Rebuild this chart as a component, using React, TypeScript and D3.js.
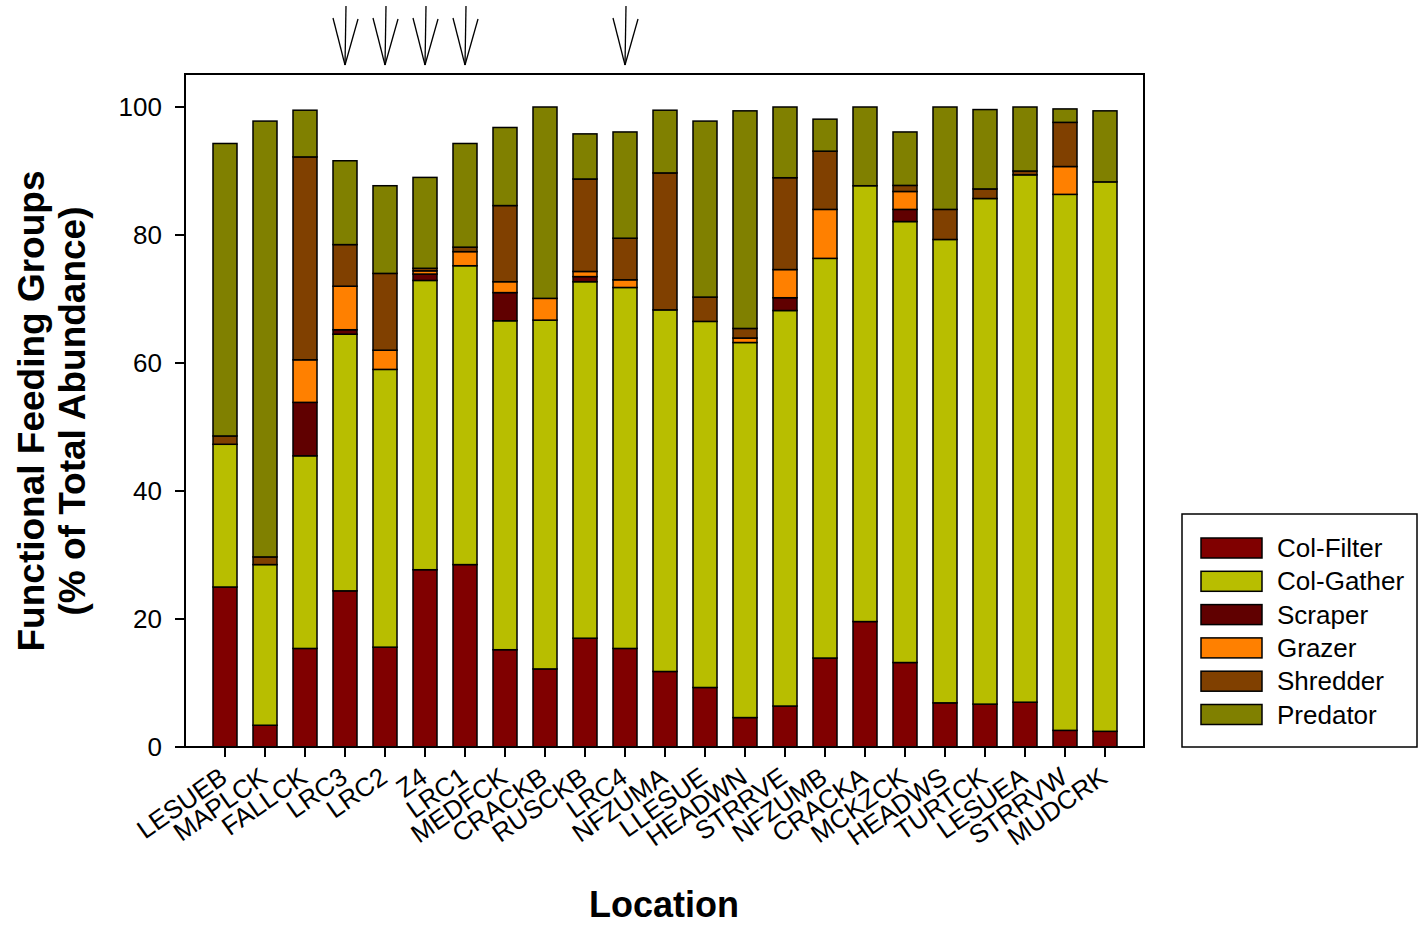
import React from 'react'
import * as d3 from 'd3'

// sites, in plotted order
const categories = ['LESUEB', 'MAPLCK', 'FALLCK', 'LRC3', 'LRC2', 'Z4', 'LRC1', 'MEDFCK', 'CRACKB', 'RUSCKB', 'LRC4',
    'NFZUMA', 'LLESUE', 'HEADWN', 'STRRVE', 'NFZUMB', 'CRACKA', 'MCKZCK', 'HEADWS', 'TURTCK', 'LESUEA', 'STRRVW', 'MUDCRK']

// % of total abundance per feeding group
const colFilter = [25.0, 3.4, 15.4, 24.4, 15.6, 27.7, 28.5, 15.2, 12.2, 17.0, 15.4, 11.8, 9.3, 4.6, 6.4, 13.9, 19.6, 13.2, 6.9, 6.7, 7.0, 2.6, 2.45]
const colGather = [22.3, 25.1, 30.1, 40.1, 43.4, 45.2, 46.7, 51.4, 54.5, 55.7, 56.4, 56.5, 57.2, 58.6, 61.8, 62.45, 68.1, 68.9, 72.4, 79.0, 82.4, 83.75, 85.85]
const scraper = [0, 0, 8.35, 0.7, 0, 1.0, 0, 4.4, 0, 0.8, 0, 0, 0, 0, 2.0, 0, 0, 1.9, 0, 0, 0, 0, 0]
const grazer = [0, 0, 6.65, 6.8, 3.0, 0.5, 2.2, 1.7, 3.4, 0.8, 1.2, 0, 0, 0.7, 4.4, 7.65, 0, 2.8, 0, 0, 0, 4.35, 0]
const shredder = [1.3, 1.2, 31.7, 6.5, 12.0, 0.4, 0.7, 11.9, 0, 14.45, 6.5, 21.4, 3.8, 1.5, 14.35, 9.1, 0, 0.95, 4.7, 1.5, 0.6, 6.9, 0]
const predator = [45.7, 68.1, 7.3, 13.1, 13.7, 14.2, 16.2, 12.2, 29.9, 7.05, 16.6, 9.8, 27.5, 34.0, 11.05, 5.0, 12.3, 8.35, 16.0, 12.4, 10.0, 2.1, 11.1]

const seriesNames = ['Col-Filter', 'Col-Gather', 'Scraper', 'Grazer', 'Shredder', 'Predator']
const seriesColors = ['#800000', '#b8be00', '#600000', '#ff8000', '#804000', '#808000']
const yTicks = [0, 20, 40, 60, 80, 100]

// sites marked with an arrow above the plot
const arrowSites = ['LRC3', 'LRC2', 'Z4', 'LRC1', 'LRC4']

const font = "Arial, 'Liberation Sans', sans-serif"

const App = () => {
    const width = 1418
    const height = 926
    const plot = { left: 185, right: 1144, top: 74, bottom: 747 }

    const rows = categories.map((c, i) => ({
        site: c,
        'Col-Filter': colFilter[i],
        'Col-Gather': colGather[i],
        'Scraper': scraper[i],
        'Grazer': grazer[i],
        'Shredder': shredder[i],
        'Predator': predator[i],
    }))
    const stacked = d3.stack().keys(seriesNames)(rows as any)

    const xScale = d3.scaleBand()
        .domain(categories)
        .range([205, 1125])
        .paddingInner(0.4)
        .paddingOuter(0.2)
    // 0 sits on the bottom axis, 100 at y=107
    const yScale = d3.scaleLinear()
        .domain([0, (plot.bottom - plot.top) / 6.4])
        .range([plot.bottom, plot.top])

    const center = (c: string) => (xScale(c) as number) + xScale.bandwidth() / 2

    const legend = { x: 1182, y: 514, w: 235, h: 233 }

    return (
        <svg width={width} height={height} style={{ position: 'absolute', left: 0, top: 0, background: '#fff' }}
            fontFamily={font}>

            {/* bars */}
            {stacked.map((s, si) => (
                <g key={seriesNames[si]} fill={seriesColors[si]} stroke='#000' strokeWidth={1.5}>
                    {s.map((d, i) => {
                        if (d[1] - d[0] <= 0) return null
                        return <rect key={i}
                            x={xScale(categories[i])}
                            y={yScale(d[1])}
                            width={xScale.bandwidth()}
                            height={yScale(d[0]) - yScale(d[1])} />
                    })}
                </g>
            ))}

            {/* frame */}
            <rect x={plot.left} y={plot.top} width={plot.right - plot.left} height={plot.bottom - plot.top}
                fill='none' stroke='#000' strokeWidth={2} />

            {/* y axis */}
            {yTicks.map(t => (
                <g key={t} transform={`translate(0,${yScale(t)})`}>
                    <line x1={plot.left - 10} x2={plot.left} stroke='#000' strokeWidth={2} />
                    <text x={162} dy={9} textAnchor='end' fontSize={26}>{t}</text>
                </g>
            ))}

            {/* x axis */}
            {categories.map(c => (
                <g key={c}>
                    <line x1={center(c)} x2={center(c)} y1={plot.bottom} y2={plot.bottom + 10} stroke='#000' strokeWidth={2} />
                    <text transform={`translate(${center(c) + 4},${plot.bottom + 34}) rotate(-35)`}
                        textAnchor='end' fontSize={26}>{c}</text>
                </g>
            ))}

            {/* arrows */}
            {arrowSites.map(c => {
                const x = center(c)
                return (
                    <g key={c} stroke='#000' strokeWidth={1.3} fill='none'>
                        <line x1={x + 1} y1={6} x2={x} y2={65} />
                        <line x1={x - 12} y1={18} x2={x} y2={65} />
                        <line x1={x + 13} y1={19} x2={x} y2={65} />
                    </g>
                )
            })}

            {/* titles */}
            <text transform='translate(44,411) rotate(-90)' textAnchor='middle' fontSize={37} fontWeight='bold'>
                Functional Feeding Groups
            </text>
            <text transform='translate(85,411) rotate(-90)' textAnchor='middle' fontSize={37} fontWeight='bold'>
                (% of Total Abundance)
            </text>
            <text x={664} y={917} textAnchor='middle' fontSize={36} fontWeight='bold'>Location</text>

            {/* legend */}
            <rect x={legend.x} y={legend.y} width={legend.w} height={legend.h} fill='#fff' stroke='#000' strokeWidth={1.5} />
            {seriesNames.map((n, i) => {
                const cy = 548 + i * 33.3
                return (
                    <g key={n}>
                        <rect x={1201} y={cy - 10} width={61} height={20} fill={seriesColors[i]} stroke='#000' strokeWidth={1.5} />
                        <text x={1277} y={cy + 9} fontSize={26}>{n}</text>
                    </g>
                )
            })}
        </svg>
    )
}

export default App
